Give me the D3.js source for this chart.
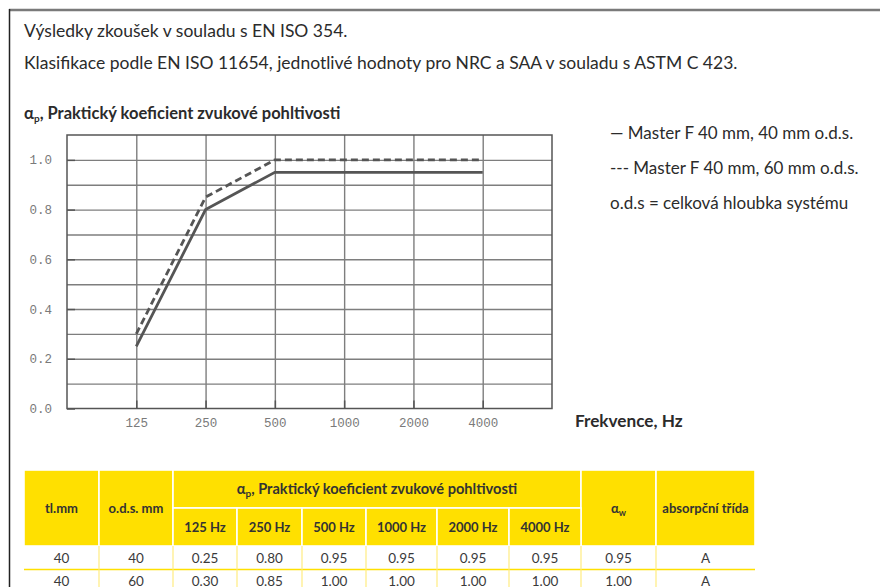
<!DOCTYPE html>
<html>
<head>
<meta charset="utf-8">
<script src="https://cdn.jsdelivr.net/npm/d3@7"></script>
<style>
  body { margin: 0; background: #fff; }
  svg { display: block; }
</style>
</head>
<body>
<div id="chart"></div>
<script>
// values
const freqs = ["125", "250", "500", "1000", "2000", "4000"];
const alpha40 = [0.25, 0.80, 0.95, 0.95, 0.95, 0.95];
const alpha60 = [0.30, 0.85, 1.00, 1.00, 1.00, 1.00];
const yLabels = [0, 0.2, 0.4, 0.6, 0.8, 1.0];
const yGrid = [0.1, 0.2, 0.3, 0.4, 0.5, 0.6, 0.7, 0.8, 0.9, 1.0];

const introLines = [
  "Výsledky zkoušek v souladu s EN ISO 354.",
  "Klasifikace podle EN ISO 11654, jednotlivé hodnoty pro NRC a SAA v souladu s ASTM C 423."
];
const legendLines = [
  "— Master F 40 mm, 40 mm o.d.s.",
  "--- Master F 40 mm, 60 mm o.d.s.",
  "o.d.s = celková hloubka systému"
];

// table
const thickness = [40, 40];
const ods = [40, 60];
const alphaW = [0.95, 1.00];
const absClass = ["A", "A"];

const W = 880, H = 587;
const margin = { left: 67, right: 328, top: 135, bottom: 178 };
const yellow = "#ffe000";
const textFont = "Lato, 'Noto Sans', sans-serif";
const monoFont = "'Liberation Mono', 'DejaVu Sans Mono', monospace";

let svg = d3.select("#chart")
  .append("svg")
  .attr("width", W)
  .attr("height", H);

svg.append("rect").attr("width", W).attr("height", H).attr("fill", "#fff");

// page frame
svg.append("line")
  .attr("x1", 9).attr("x2", W).attr("y1", 10).attr("y2", 10)
  .attr("stroke", "#7a7a7a").attr("stroke-width", 2.5);
svg.append("line")
  .attr("x1", 9.5).attr("x2", 9.5).attr("y1", 9).attr("y2", H)
  .attr("stroke", "#222").attr("stroke-width", 1.5);

// intro texts
svg.selectAll("text.intro")
  .data(introLines)
  .enter()
  .append("text")
  .attr("class", "intro")
  .attr("x", 24)
  .attr("y", (d, i) => 37 + i * 32)
  .attr("font-family", textFont)
  .attr("font-size", 17.5)
  .attr("fill", "#2b2b2b")
  .text((d) => d);

// chart title
let title = svg.append("text")
  .attr("x", 24)
  .attr("y", 119)
  .attr("font-family", textFont)
  .attr("font-size", 16.5)
  .attr("font-weight", "bold")
  .attr("fill", "#2b2b2b");
title.append("tspan").text("α");
title.append("tspan").attr("font-size", 10).attr("dy", 3).text("p");
title.append("tspan").attr("dy", -3).text(", Praktický koeficient zvukové pohltivosti");

// scales
let x = d3.scalePoint()
  .domain(freqs)
  .range([margin.left, W - margin.right])
  .padding(1);
let y = d3.scaleLinear()
  .domain([0, 1.1])
  .range([H - margin.bottom - 0.5, margin.top]);

let plotW = W - margin.right - margin.left;
let plotH = y(0) - y(1.1);

// grid (horizontal every 0.1, vertical at each frequency)
svg.append("g")
  .attr("transform", "translate(" + margin.left + ",0)")
  .call(d3.axisLeft(y).tickValues(yGrid).tickSize(-plotW).tickFormat(""))
  .call((g) => g.select(".domain").remove())
  .selectAll("line")
  .attr("stroke", "#7e7e7e")
  .attr("stroke-width", 1.4);

svg.append("g")
  .attr("transform", "translate(0," + y(0) + ")")
  .call(d3.axisBottom(x).tickSize(-plotH).tickFormat(""))
  .call((g) => g.select(".domain").remove())
  .selectAll("line")
  .attr("stroke", "#7e7e7e")
  .attr("stroke-width", 1.4);

// plot frame
svg.append("rect")
  .attr("x", margin.left)
  .attr("y", y(1.1))
  .attr("width", plotW)
  .attr("height", plotH)
  .attr("fill", "none")
  .attr("stroke", "#555")
  .attr("stroke-width", 1.5);

// axes with small inward ticks and mono labels
let yAxis = svg.append("g")
  .attr("transform", "translate(" + margin.left + ",0)")
  .call(d3.axisLeft(y).tickValues(yLabels).tickSize(-8).tickPadding(15).tickFormat(d3.format(".1f")));
yAxis.select(".domain").remove();
yAxis.selectAll("line").attr("stroke", "#555").attr("stroke-width", 1.5);
yAxis.selectAll("text")
  .attr("font-family", monoFont)
  .attr("font-size", 12.5)
  .attr("fill", "#7a7a7a");

let xAxis = svg.append("g")
  .attr("transform", "translate(0," + y(0) + ")")
  .call(d3.axisBottom(x).tickSize(-8).tickPadding(10));
xAxis.select(".domain").remove();
xAxis.selectAll("line").attr("stroke", "#555").attr("stroke-width", 1.5);
xAxis.selectAll("text")
  .attr("font-family", monoFont)
  .attr("font-size", 12.5)
  .attr("fill", "#7a7a7a");

svg.append("text")
  .attr("x", 575)
  .attr("y", 427)
  .attr("font-family", textFont)
  .attr("font-size", 17.2)
  .attr("font-weight", "bold")
  .attr("fill", "#2b2b2b")
  .text("Frekvence, Hz");

// series
let line = d3.line()
  .x((d, i) => x(freqs[i]))
  .y((d) => y(d));

svg.append("path")
  .datum(alpha60)
  .attr("d", line)
  .attr("fill", "none")
  .attr("stroke", "#555")
  .attr("stroke-width", 2.8)
  .attr("stroke-dasharray", "7,4");

svg.append("path")
  .datum(alpha40)
  .attr("d", line)
  .attr("fill", "none")
  .attr("stroke", "#555")
  .attr("stroke-width", 2.8);

// legend
svg.selectAll("text.legend")
  .data(legendLines)
  .enter()
  .append("text")
  .attr("class", "legend")
  .attr("x", 610)
  .attr("y", (d, i) => 139 + i * 35)
  .attr("font-family", textFont)
  .attr("font-size", 17)
  .attr("fill", "#2b2b2b")
  .text((d) => d);

// table
let colX = [24, 99, 173, 237, 302, 366, 437, 509, 581, 656, 755];
let hTop = 470, hMid = 508, hBot = 546, rowH = 23.5;

let headCells = [
  { x0: colX[0], x1: colX[1], y0: hTop, y1: hBot, label: "tl.mm", size: 13 },
  { x0: colX[1], x1: colX[2], y0: hTop, y1: hBot, label: "o.d.s. mm", size: 13 },
  { x0: colX[2], x1: colX[8], y0: hTop, y1: hMid, label: "title", size: 14.6 },
  { x0: colX[8], x1: colX[9], y0: hTop, y1: hBot, label: "aw", size: 13 },
  { x0: colX[9], x1: colX[10], y0: hTop, y1: hBot, label: "absorpční třída", size: 13 }
];
freqs.forEach((f, i) => {
  headCells.push({ x0: colX[2 + i], x1: colX[3 + i], y0: hMid, y1: hBot, label: f + " Hz", size: 13 });
});

let head = svg.append("g");
head.selectAll("rect")
  .data(headCells)
  .enter()
  .append("rect")
  .attr("x", (d) => d.x0)
  .attr("y", (d) => d.y0)
  .attr("width", (d) => d.x1 - d.x0)
  .attr("height", (d) => d.y1 - d.y0)
  .attr("fill", yellow)
  .attr("stroke", "#fff")
  .attr("stroke-width", 1.6);

head.selectAll("text")
  .data(headCells)
  .enter()
  .append("text")
  .attr("x", (d) => (d.x0 + d.x1) / 2)
  .attr("y", (d) => (d.y0 + d.y1) / 2 + 4.5)
  .attr("text-anchor", "middle")
  .attr("font-family", textFont)
  .attr("font-size", (d) => d.size)
  .attr("font-weight", "bold")
  .attr("fill", "#333")
  .each(function (d) {
    let t = d3.select(this);
    if (d.label === "title") {
      t.append("tspan").text("α");
      t.append("tspan").attr("font-size", 10).attr("dy", 3).text("p");
      t.append("tspan").attr("dy", -3).text(", Praktický koeficient zvukové pohltivosti");
    } else if (d.label === "aw") {
      t.append("tspan").text("α");
      t.append("tspan").attr("font-size", 9).attr("dy", 3).text("w");
    } else {
      t.text(d.label);
    }
  });

let rows = thickness.map((d, i) => {
  let vals = [String(d), String(ods[i])];
  [alpha40, alpha60][i].forEach((v) => vals.push(v.toFixed(2)));
  vals.push(alphaW[i].toFixed(2));
  vals.push(absClass[i]);
  return vals;
});

let body = svg.append("g");
rows.forEach((r, ri) => {
  let y0 = hBot + ri * rowH;
  body.append("line")
    .attr("x1", colX[0]).attr("x2", colX[10])
    .attr("y1", y0 + rowH).attr("y2", y0 + rowH)
    .attr("stroke", yellow).attr("stroke-width", 1.5);
  colX.slice(1, 10).forEach((cx) => {
    body.append("line")
      .attr("x1", cx).attr("x2", cx)
      .attr("y1", y0).attr("y2", y0 + rowH)
      .attr("stroke", "#ffec80").attr("stroke-width", 1.2);
  });
  body.selectAll("text.r" + ri)
    .data(r)
    .enter()
    .append("text")
    .attr("class", "r" + ri)
    .attr("x", (d, i) => (colX[i] + colX[i + 1]) / 2)
    .attr("y", y0 + rowH / 2 + 5)
    .attr("text-anchor", "middle")
    .attr("font-family", textFont)
    .attr("font-size", 13.5)
    .attr("fill", "#3a3a3a")
    .text((d) => d);
});
</script>
</body>
</html>
